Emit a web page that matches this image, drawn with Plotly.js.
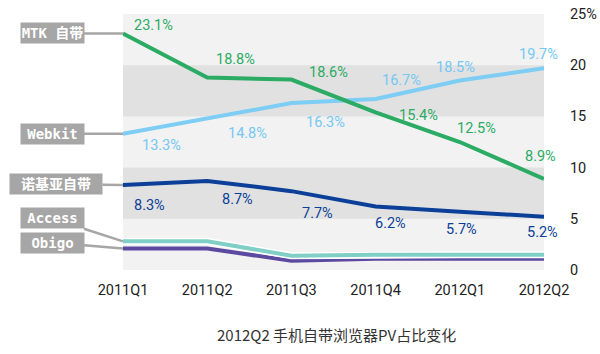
<!DOCTYPE html>
<html>
<head>
<meta charset="utf-8">
<script src="https://cdn.plot.ly/plotly-3.0.1.min.js"></script>
<style>html,body{margin:0;padding:0;background:#fff}#chart{width:600px;height:354px}</style>
</head>
<body>
<div id="chart"></div>
<script>
var categories = ['2011Q1','2011Q2','2011Q3','2011Q4','2012Q1','2012Q2'];
var mtk    = [23.1, 18.8, 18.6, 15.4, 12.5, 8.9];
var webkit = [13.3, 14.8, 16.3, 16.7, 18.5, 19.7];
var nokia  = [8.3, 8.7, 7.7, 6.2, 5.7, 5.2];
var access = [2.8, 2.8, 1.4, 1.5, 1.5, 1.5];
var obigo  = [2.1, 2.1, 0.9, 1.1, 1.1, 1.1];
var seriesNames = ['MTK 自带', 'Webkit', '诺基亚自带', 'Access', 'Obigo'];
var yTickVals = [0, 5, 10, 15, 20, 25];
var yTickText = ['0', '5', '10', '15', '20', '25%'];
var chartTitle = '2012Q2 手机自带浏览器PV占比变化';

var C = {mtk:'#2BAB63', webkit:'#7DCDF4', nokia:'#0B3F98', access:'#80CFC6', obigo:'#5B4A9F'};

function line(y, color, w, name){
  return {x: categories, y: y, type:'scatter', mode:'lines', name:name,
          line:{color:color, width:w}, hoverinfo:'skip', showlegend:false};
}
var traces = [
  line(obigo, C.obigo, 4, seriesNames[4]),
  line(access, '#ffffff', 7, 'access-outline'),
  line(access, C.access, 4, seriesNames[3]),
  line(nokia, C.nokia, 4, seriesNames[2]),
  line(webkit, C.webkit, 4, seriesNames[1]),
  line(mtk, C.mtk, 4, seriesNames[0])
];

var labelFont = 'Roboto, "Open Sans", sans-serif';
var annotations = [];
function addLabels(vals, color, xs, ys){
  for (var i=0;i<vals.length;i++){
    annotations.push({x: categories[i], y: vals[i], xref:'x', yref:'y',
      text: vals[i].toFixed(1)+'%', showarrow:false, xshift: xs[i], yshift: ys[i],
      font:{family:labelFont, size:14.5, color:color}});
  }
}
addLabels(mtk, C.mtk,       [30,28,37,43,17,-4], [8,18,7,-3,14,22]);
addLabels(webkit, '#74C8F2',[38,40,34,26,-4,-6], [-12,-15,-19,18,13,14]);
addLabels(nokia, C.nokia,   [26,30,26,15,2,-2],  [-20,-19,-22,-17,-18,-16]);

// callouts
var calloutFont = {family:'"DejaVu Sans Mono", "Noto Sans CJK SC", monospace', size:14, color:'#ffffff', weight:'bold'};
var callouts = [
  {v: mtk[0],    name: seriesNames[0], ax:-71, ay:0,   w:61},
  {v: webkit[0], name: seriesNames[1], ax:-71, ay:0,   w:61},
  {v: nokia[0],  name: seriesNames[2], ax:-67, ay:-1,  w:90},
  {v: access[0], name: seriesNames[3], ax:-71, ay:-23, w:61},
  {v: obigo[0],  name: seriesNames[4], ax:-71, ay:-6,  w:61}
];
callouts.forEach(function(c){
  annotations.push({x: categories[0], y: c.v, xref:'x', yref:'y',
    text:'<b>'+c.name+'</b>', showarrow:true, arrowhead:0, arrowwidth:2.5, arrowcolor:'#A6A6A6',
    ax:c.ax, ay:c.ay, bgcolor:'#A6A6A6', width:c.w, height:18, borderpad:1,
    font:calloutFont});
});

annotations.push({xref:'paper', yref:'paper', x:0.506, y:-0.25, xanchor:'center', yanchor:'middle',
  text: chartTitle, showarrow:false,
  font:{family:'"Noto Sans CJK SC", sans-serif', size:15, color:'#333333'}});

var shapes = [
  {type:'rect', xref:'paper', yref:'y', x0:0, x1:1, y0:5, y1:10, fillcolor:'#E1E1E1', line:{width:0}, layer:'below'},
  {type:'rect', xref:'paper', yref:'y', x0:0, x1:1, y0:15, y1:20, fillcolor:'#E1E1E1', line:{width:0}, layer:'below'}
];

var layout = {
  width:600, height:354,
  margin:{l:123, r:56, t:14, b:84},
  paper_bgcolor:'#ffffff', plot_bgcolor:'#F2F2F2',
  showlegend:false,
  xaxis:{type:'category', range:[0,5], showgrid:false, zeroline:false, showline:false,
    ticks:'outside', ticklen:7, tickcolor:'rgba(0,0,0,0)',
    tickfont:{family:labelFont, size:14.5, color:'#222222'}},
  yaxis:{side:'right', range:[0,25], tickvals:yTickVals, ticktext:yTickText,
    showgrid:false, zeroline:false, showline:false,
    ticks:'outside', ticklen:22, tickcolor:'rgba(0,0,0,0)',
    tickfont:{family:labelFont, size:14.5, color:'#222222'}},
  shapes:shapes,
  annotations:annotations
};
Plotly.newPlot('chart', traces, layout, {displayModeBar:false, staticPlot:true});
</script>
</body>
</html>
